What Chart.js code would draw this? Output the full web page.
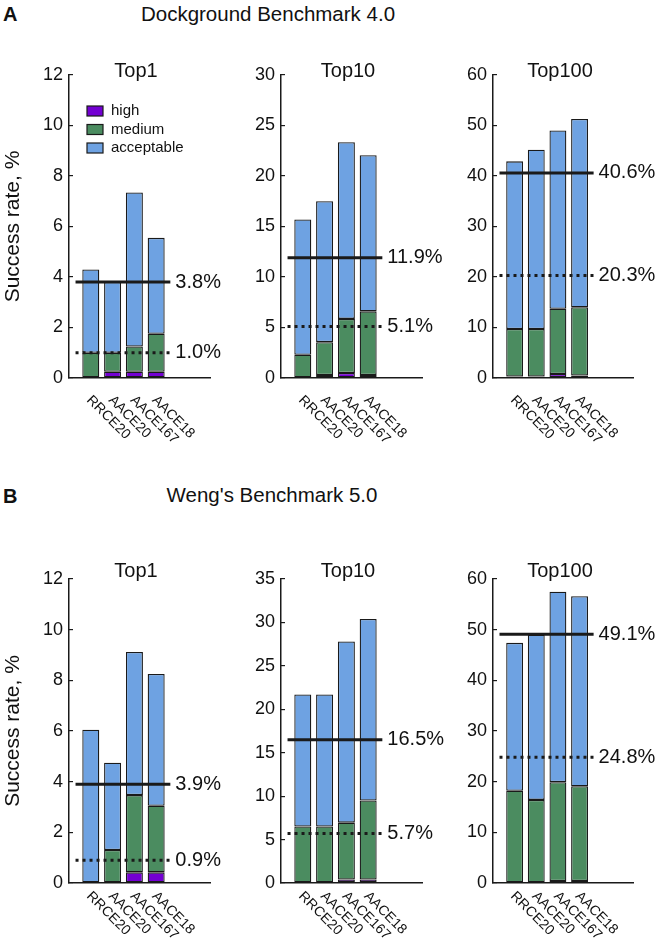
<!DOCTYPE html>
<html>
<head>
<meta charset="utf-8">
<script src="https://cdn.jsdelivr.net/npm/chart.js@4.4.1/dist/chart.umd.min.js"></script>
<style>
body { margin: 0; background: #fff; font-family: "Liberation Sans", Arial, sans-serif; color: #111; }
#page { position: relative; width: 664px; height: 939px; overflow: hidden; }
#page canvas { position: absolute; left: 0; top: 0; }
.tag { position: absolute; font-weight: bold; font-size: 20px; line-height: 20px; }
.head { position: absolute; width: 400px; text-align: center; font-size: 20.5px; line-height: 21px; }
</style>
</head>
<body>
<div id="page">
  <div class="tag" style="left:3px;top:4px">A</div>
  <div class="head" style="left:68px;top:3px">Dockground Benchmark 4.0</div>
  <div class="tag" style="left:3px;top:486px">B</div>
  <div class="head" style="left:72px;top:484px">Weng's Benchmark 5.0</div>
</div>
<script>
// categories and quality levels
const categories = ['RRCE20', 'AACE20', 'AACE167', 'AACE18'];
const levels = ['high', 'medium', 'acceptable'];

// Dockground Benchmark 4.0 (segment heights, %)
const dockTop1High = [0, 0.25, 0.25, 0.25];
const dockTop1Medium = [1.0, 0.75, 1.0, 1.5];
const dockTop1Acceptable = [3.3, 2.8, 6.1, 3.8];
const dockTop1Lines = [3.8, 1.0];

const dockTop10High = [0, 0.3, 0.5, 0.3];
const dockTop10Medium = [2.3, 3.25, 5.35, 6.3];
const dockTop10Acceptable = [13.4, 13.95, 17.5, 15.45];
const dockTop10Lines = [11.9, 5.1];

const dockTop100High = [0.3, 0.3, 0.8, 0.5];
const dockTop100Medium = [9.4, 9.4, 12.9, 13.5];
const dockTop100Acceptable = [33.2, 35.5, 35.3, 37.3];
const dockTop100Lines = [40.6, 20.3];

// Weng's Benchmark 5.0
const wengTop1High = [0, 0, 0.42, 0.42];
const wengTop1Medium = [0, 1.3, 3.05, 2.63];
const wengTop1Acceptable = [6.05, 3.45, 5.65, 5.2];
const wengTop1Lines = [3.9, 0.9];

const wengTop10High = [0, 0, 0.4, 0.4];
const wengTop10Medium = [6.5, 6.5, 6.55, 9.1];
const wengTop10Acceptable = [15.2, 15.2, 20.85, 20.9];
const wengTop10Lines = [16.5, 5.7];

const wengTop100High = [0, 0, 0.4, 0.4];
const wengTop100Medium = [18.2, 16.4, 19.5, 18.7];
const wengTop100Acceptable = [29.2, 32.6, 37.6, 37.5];
const wengTop100Lines = [49.1, 24.8];

const levelColors = ['#7300d2', '#4b8c60', '#6ea2e2'];
const ink = '#1a1a1a';
const fontFamily = '"Liberation Sans", Arial, sans-serif';
Chart.defaults.font.family = fontFamily;
Chart.defaults.color = '#111';

const colX = [69, 281, 493];
const colRight = [210, 422, 633];
const rows = [
  {top: 75, bottom: 378, titleGap: 4, labelGap: 15},
  {top: 579, bottom: 883, titleGap: 8, labelGap: 6}
];
const lineFrom = 0.3;
const lineTo = categories.length + 0.65;

const panels = [
  {row: 0, col: 0, title: 'Top1', max: 12, step: 2, series: [dockTop1High, dockTop1Medium, dockTop1Acceptable], lines: dockTop1Lines, legend: true},
  {row: 0, col: 1, title: 'Top10', max: 30, step: 5, series: [dockTop10High, dockTop10Medium, dockTop10Acceptable], lines: dockTop10Lines},
  {row: 0, col: 2, title: 'Top100', max: 60, step: 10, series: [dockTop100High, dockTop100Medium, dockTop100Acceptable], lines: dockTop100Lines},
  {row: 1, col: 0, title: 'Top1', max: 12, step: 2, series: [wengTop1High, wengTop1Medium, wengTop1Acceptable], lines: wengTop1Lines},
  {row: 1, col: 1, title: 'Top10', max: 35, step: 5, series: [wengTop10High, wengTop10Medium, wengTop10Acceptable], lines: wengTop10Lines},
  {row: 1, col: 2, title: 'Top100', max: 60, step: 10, series: [wengTop100High, wengTop100Medium, wengTop100Acceptable], lines: wengTop100Lines}
];

// labels, titles, legend drawn on top of each panel
const decor = {
  id: 'decor',
  afterDraw(chart, args, opts) {
    const ctx = chart.ctx;
    const xs = chart.scales.x, ys = chart.scales.y, area = chart.chartArea;
    ctx.save();
    ctx.fillStyle = '#111';

    ctx.font = '14px ' + fontFamily;
    ctx.textAlign = 'left';
    ctx.textBaseline = 'top';
    categories.forEach((c, i) => {
      const px = xs.getPixelForValue(i + 1);
      ctx.save();
      ctx.translate(px + 3, area.bottom + opts.labelGap);
      ctx.rotate(Math.PI / 4);
      ctx.fillText(c, 0, 0);
      ctx.restore();
    });

    ctx.font = '20px ' + fontFamily;
    ctx.textBaseline = 'middle';
    opts.lines.forEach(v => {
      ctx.fillText(v.toFixed(1) + '%', xs.getPixelForValue(lineTo) + 5, ys.getPixelForValue(v));
    });

    ctx.textAlign = 'center';
    ctx.fillText(opts.title, area.left + 67, area.top - opts.titleGap);

    if (opts.yTitle) {
      ctx.save();
      ctx.font = '21px ' + fontFamily;
      ctx.translate(13, (area.top + area.bottom) / 2);
      ctx.rotate(-Math.PI / 2);
      ctx.fillText('Success rate, %', 0, 0);
      ctx.restore();
    }

    if (opts.legend) {
      ctx.font = '15px ' + fontFamily;
      ctx.textAlign = 'left';
      chart.data.datasets.filter(d => d.type === 'bar').forEach((d, k) => {
        const cy = area.top + 36 + k * 18.5;
        ctx.fillStyle = d.backgroundColor;
        ctx.fillRect(area.left + 18, cy - 5, 16, 10);
        ctx.strokeStyle = ink;
        ctx.lineWidth = 1.2;
        ctx.strokeRect(area.left + 18, cy - 5, 16, 10);
        ctx.fillStyle = '#111';
        ctx.fillText(d.label, area.left + 42, cy);
      });
    }
    ctx.restore();
  }
};

const page = document.getElementById('page');

panels.forEach(p => {
  const canvas = document.createElement('canvas');
  canvas.width = 664;
  canvas.height = 939;
  page.appendChild(canvas);
  const r = rows[p.row];

  const barSets = p.series.map((vals, k) => ({
    type: 'bar',
    label: levels[k],
    data: categories.map((c, i) => ({x: i + 1, y: vals[i]})),
    backgroundColor: levelColors[k],
    borderColor: ink,
    borderWidth: 1.3,
    borderSkipped: false,
    barPercentage: 0.78,
    categoryPercentage: 1,
    yAxisID: 'y',
    order: 1
  }));
  const lineSets = p.lines.map((v, k) => ({
    type: 'line',
    label: v.toFixed(1) + '%',
    data: [{x: lineFrom, y: v}, {x: lineTo, y: v}],
    borderColor: ink,
    borderWidth: 3,
    borderDash: k === 0 ? [] : [3, 4],
    pointRadius: 0,
    yAxisID: 'y2',
    order: 0
  }));

  new Chart(canvas, {
    data: {datasets: barSets.concat(lineSets)},
    options: {
      responsive: false,
      animation: false,
      devicePixelRatio: 1,
      layout: {
        padding: {left: colX[p.col] - 40, right: 664 - colRight[p.col], top: r.top, bottom: 939 - r.bottom}
      },
      scales: {
        x: {
          type: 'linear', min: 0, max: 6.47, stacked: true, offset: false,
          ticks: {display: false},
          grid: {display: false},
          border: {display: true, color: ink, width: 1.5},
          afterFit: s => { s.height = 0; }
        },
        y: {
          position: 'left', min: 0, max: p.max, stacked: true,
          ticks: {stepSize: p.step, font: {size: 18}, color: '#111', padding: 10},
          grid: {drawOnChartArea: false, tickLength: -4, color: ink, lineWidth: 1.2},
          border: {color: ink, width: 1.5},
          afterFit: s => { s.width = 40; }
        },
        y2: {position: 'left', min: 0, max: p.max, display: false}
      },
      plugins: {
        legend: {display: false},
        tooltip: {enabled: false},
        decor: {title: p.title, titleGap: r.titleGap, labelGap: r.labelGap, lines: p.lines, yTitle: p.col === 0, legend: !!p.legend}
      }
    },
    plugins: [decor]
  });
});
</script>
</body>
</html>
